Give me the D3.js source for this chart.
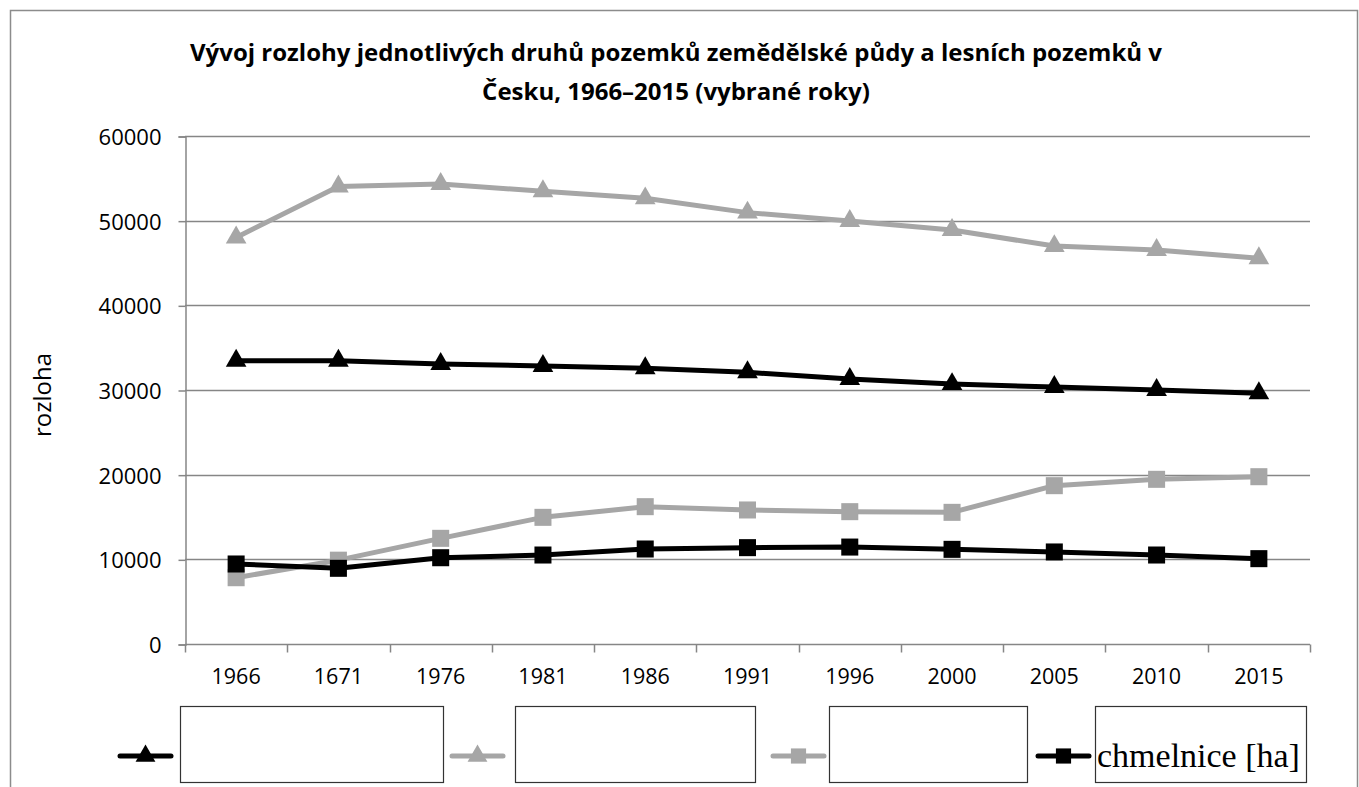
<!DOCTYPE html>
<html>
<head>
<meta charset="utf-8">
<script src="https://cdn.jsdelivr.net/npm/d3@7"></script>
<style>
  body { margin: 0; background: #fff; }
  svg { display: block; }
</style>
</head>
<body>
<svg width="1359" height="787"></svg>
<script>
// years as printed on the axis (the "1671" typo is in the original)
const years = ["1966", "1671", "1976", "1981", "1986", "1991", "1996", "2000", "2005", "2010", "2015"]

// values
const blackTriangle = [33450, 33460, 33080, 32830, 32570, 32090, 31300, 30700, 30350, 30000, 29620]
const grayTriangle = [48020, 54030, 54330, 53470, 52640, 50950, 49960, 48900, 47000, 46530, 45560]
const graySquare = [7830, 9900, 12480, 14960, 16220, 15830, 15630, 15550, 18700, 19450, 19760]
const blackSquare = [9450, 8940, 10190, 10510, 11220, 11380, 11450, 11180, 10870, 10510, 10080]

const yTicks = [0, 10000, 20000, 30000, 40000, 50000, 60000]
const legendLabels = ["", "", "", "chmelnice [ha]"]

const title1 = "Vývoj rozlohy jednotlivých druhů pozemků zemědělské půdy a lesních pozemků v"
const title2 = "Česku, 1966–2015 (vybrané roky)"
const yTitle = "rozloha"

const series = [
  { values: blackTriangle, color: "#000000", shape: d3.symbolTriangle },
  { values: grayTriangle, color: "#a6a6a6", shape: d3.symbolTriangle },
  { values: graySquare, color: "#a6a6a6", shape: d3.symbolSquare },
  { values: blackSquare, color: "#000000", shape: d3.symbolSquare }
]

const svg = d3.select("svg")
const gridColor = "#868686"
const font = "'Open Sans', sans-serif"

// outer frame
svg.append("path")
  .attr("d", "M10.5,787 V10.5 H1357.5 V787")
  .attr("fill", "none")
  .attr("stroke", "#8c8c8c")
  .attr("stroke-width", 1.5)

// title
svg.append("text")
  .attr("x", 676).attr("y", 61)
  .attr("text-anchor", "middle")
  .style("font-family", font)
  .style("font-weight", "bold")
  .style("font-size", "24px")
  .text(title1)
svg.append("text")
  .attr("x", 676).attr("y", 100)
  .attr("text-anchor", "middle")
  .style("font-family", font)
  .style("font-weight", "bold")
  .style("font-size", "24px")
  .text(title2)

const plotLeft = 185, plotRight = 1310, plotTop = 136, plotBottom = 644

const x = d3.scaleBand().domain(years).range([plotLeft, plotRight])
const y = d3.scaleLinear().domain([0, 60000]).range([plotBottom, plotTop])

// gridlines
svg.append("g")
  .selectAll("line")
  .data(yTicks.filter(t => t > 0))
  .enter().append("line")
  .attr("x1", plotLeft).attr("x2", plotRight)
  .attr("y1", d => Math.round(y(d)) + 0.5).attr("y2", d => Math.round(y(d)) + 0.5)
  .attr("stroke", gridColor)
  .attr("stroke-width", 1.5)

// y axis
const yAxis = svg.append("g")
  .attr("transform", "translate(" + (plotLeft + 0.5) + ",0.5)")
  .call(d3.axisLeft(y).tickValues(yTicks).tickSize(7).tickPadding(17).tickFormat(d3.format("d")))
yAxis.select(".domain").attr("stroke", gridColor).attr("stroke-width", 1.5)
yAxis.selectAll(".tick line").attr("stroke", gridColor).attr("stroke-width", 1.5)
yAxis.selectAll(".tick text")
  .attr("fill", "#000")
  .style("font-family", font)
  .style("font-size", "22px")
  .attr("dy", "0.36em")

// x axis with ticks between categories
const xAxis = svg.append("g")
  .attr("transform", "translate(0," + (plotBottom + 0.5) + ")")
xAxis.append("line")
  .attr("x1", plotLeft).attr("x2", plotRight)
  .attr("stroke", gridColor).attr("stroke-width", 1.5)
xAxis.selectAll(".xtick")
  .data(years.concat(["end"]))
  .enter().append("line")
  .attr("x1", (d, i) => Math.round(plotLeft + i * x.step()) + 0.5)
  .attr("x2", (d, i) => Math.round(plotLeft + i * x.step()) + 0.5)
  .attr("y1", 0).attr("y2", 8)
  .attr("stroke", gridColor).attr("stroke-width", 1.5)
xAxis.selectAll(".xlabel")
  .data(years)
  .enter().append("text")
  .attr("x", d => x(d) + x.bandwidth() / 2)
  .attr("y", 39)
  .attr("text-anchor", "middle")
  .style("font-family", font)
  .style("font-size", "21.5px")
  .text(d => d)

// y title
svg.append("text")
  .attr("transform", "translate(51,395) rotate(-90)")
  .attr("text-anchor", "middle")
  .style("font-family", font)
  .style("font-size", "24px")
  .text(yTitle)

// lines and markers
const line = d3.line()
  .x((d, i) => x(years[i]) + x.bandwidth() / 2)
  .y(d => y(d))

series.forEach(s => {
  svg.append("path")
    .datum(s.values)
    .attr("d", line)
    .attr("fill", "none")
    .attr("stroke", s.color)
    .attr("stroke-width", 5)
    .attr("stroke-linejoin", "round")
  svg.append("g")
    .selectAll("path")
    .data(s.values)
    .enter().append("path")
    .attr("transform", (d, i) => "translate(" + (x(years[i]) + x.bandwidth() / 2) + "," + y(d) + ")")
    .attr("d", d3.symbol().type(s.shape).size(s.shape === d3.symbolSquare ? 290 : 185))
    .attr("fill", s.color)
})

// legend: symbol + bordered label box
const legendY = 756
const legendItems = [
  { sx: 120, bx: 180, bw: 263 },
  { sx: 452, bx: 515, bw: 240 },
  { sx: 773, bx: 829, bw: 198 },
  { sx: 1038, bx: 1095, bw: 211 }
]
legendItems.forEach((it, i) => {
  const s = series[i]
  const g = svg.append("g")
  g.append("line")
    .attr("x1", it.sx).attr("x2", it.sx + 51)
    .attr("y1", legendY).attr("y2", legendY)
    .attr("stroke", s.color).attr("stroke-width", 5)
    .attr("stroke-linecap", "round")
  g.append("path")
    .attr("transform", "translate(" + (it.sx + 25.5) + "," + legendY + ")")
    .attr("d", d3.symbol().type(s.shape).size(s.shape === d3.symbolSquare ? 230 : 170))
    .attr("fill", s.color)
  g.append("rect")
    .attr("x", it.bx + 0.5).attr("y", 706.5)
    .attr("width", it.bw).attr("height", 76)
    .attr("fill", "#fff")
    .attr("stroke", "#333")
    .attr("stroke-width", 1.2)
  g.append("text")
    .attr("x", it.bx + 2).attr("y", 767)
    .style("font-family", "'Liberation Serif', serif")
    .style("font-size", "34px")
    .text(legendLabels[i])
})
</script>
</body>
</html>
